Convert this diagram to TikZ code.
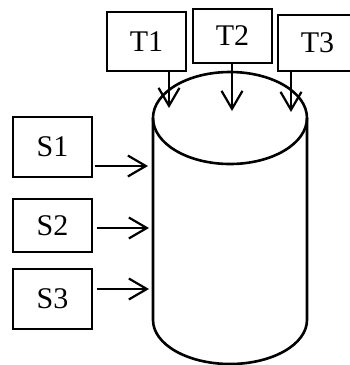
\documentclass[tikz,border=0pt]{standalone}
\usepackage{fontspec}
\setmainfont{Liberation Serif}
\usetikzlibrary{arrows.meta}
\begin{document}
\begin{tikzpicture}[x=1pt,y=-1pt,
  box/.style={draw,line width=1.3pt,inner sep=0pt,font=\fontsize{30}{36}\selectfont},
  arr/.style={line width=2.2pt,-{Straight Barb[length=18pt,width=21pt,line width=2.2pt]}},
  cyl/.style={line width=2.6pt}]
\useasboundingbox (0,0) rectangle (349,365);
% boxes
\node[box,minimum width=79pt,minimum height=59pt] (T1) at (146.5,41.5) {T1};
\node[box,minimum width=79pt,minimum height=54pt] (T2) at (232.5,36) {T2};
\node[box,minimum width=79pt,minimum height=56pt] (T3) at (317.5,43) {T3};
\node[box,minimum width=79pt,minimum height=60pt] (S1) at (52.5,147) {S1};
\node[box,minimum width=79pt,minimum height=53pt] (S2) at (52.5,225.5) {S2};
\node[box,minimum width=79pt,minimum height=60pt] (S3) at (52.5,299) {S3};
% cylinder
\coordinate (ctop) at (230,118);
\coordinate (cbot) at (230,320);
\draw[cyl] (ctop) ellipse [x radius=77pt, y radius=46pt];
\draw[cyl] ([xshift=-77pt]ctop) -- ([xshift=-77pt]cbot)
  arc[start angle=180, end angle=360, x radius=77pt, y radius=44pt]
  -- ([xshift=77pt]ctop);
% arrow ends
\coordinate (t1) at (169,108);
\coordinate (t2) at (232,111);
\coordinate (t3) at (291,112);
\coordinate (s1) at (148,166);
\coordinate (s2) at (149,228);
\coordinate (s3) at (149,289);
\draw[arr] (T1.south -| t1) -- (t1);
\draw[arr] (T2.south -| t2) -- (t2);
\draw[arr] (T3.south -| t3) -- (t3);
\draw[arr] ([xshift=2pt]S1.east |- s1) -- (s1);
\draw[arr] ([xshift=4pt]S2.east |- s2) -- (s2);
\draw[arr] ([xshift=4pt]S3.east |- s3) -- (s3);
\end{tikzpicture}
\end{document}
